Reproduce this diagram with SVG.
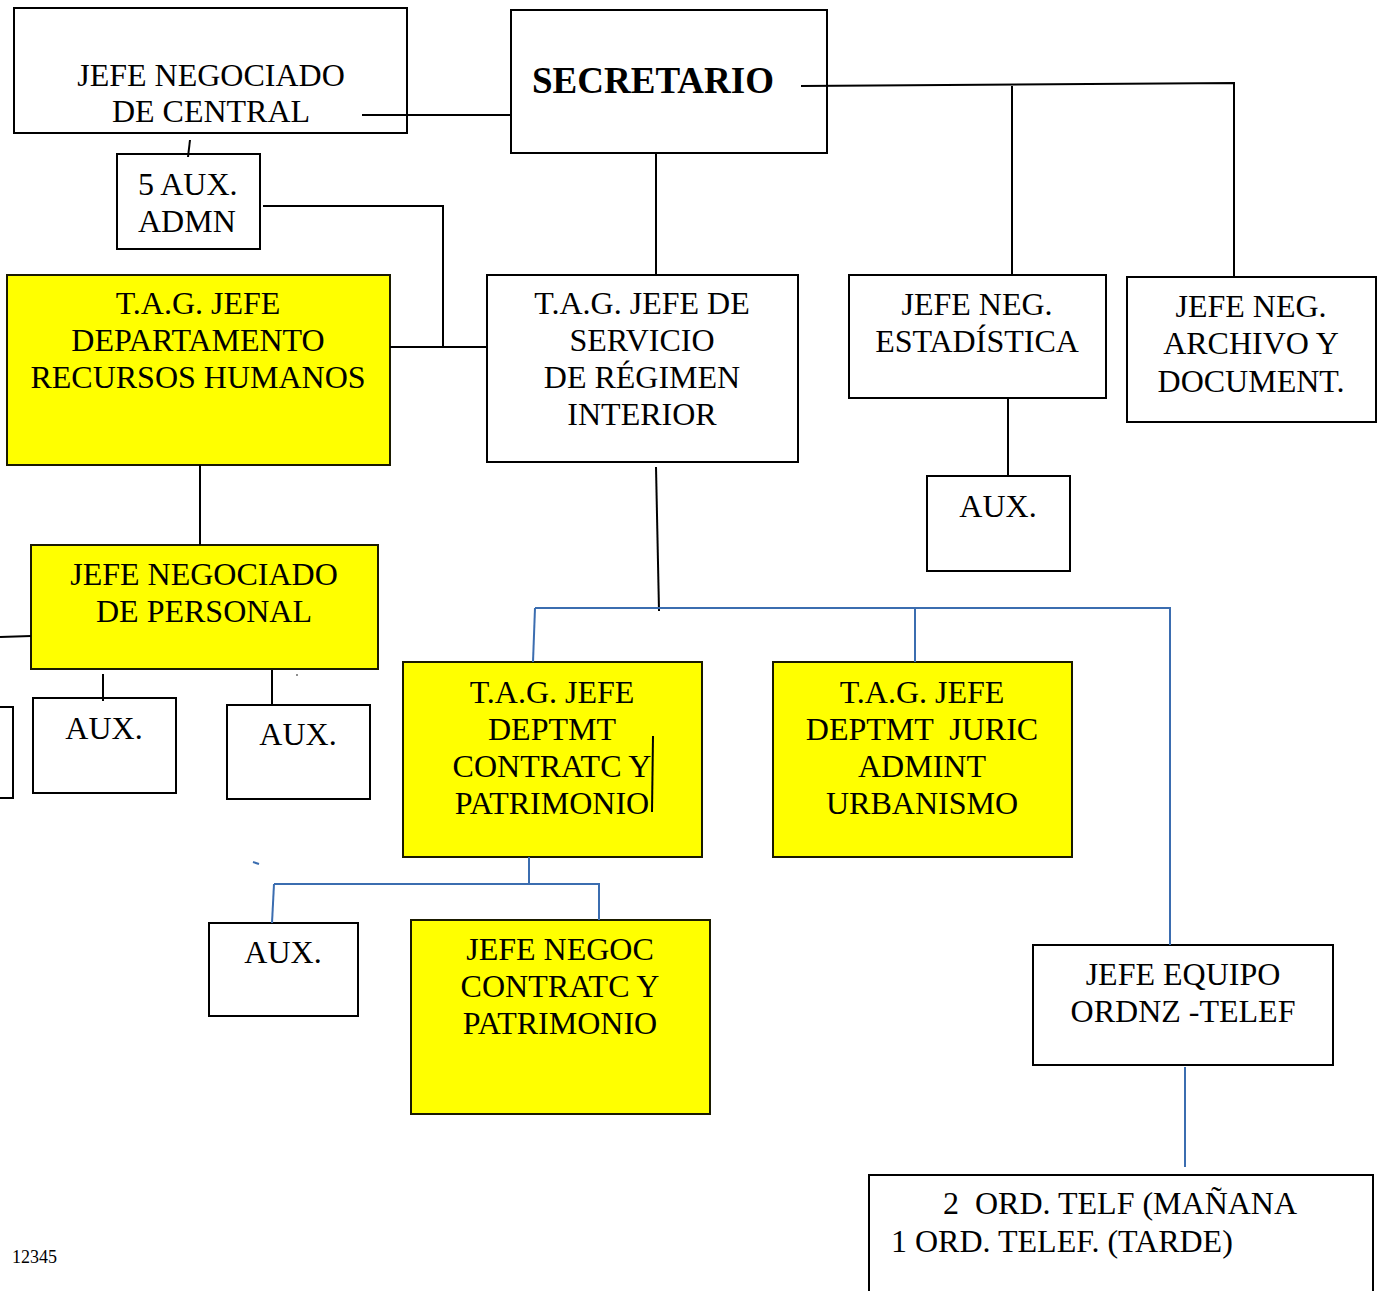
<svg xmlns="http://www.w3.org/2000/svg" width="1382" height="1291" viewBox="0 0 1382 1291">
<style>
.box{fill:#fff;stroke:#000;stroke-width:2}
.yb{fill:#ffff00;stroke:#1a1a00;stroke-width:2}
.t{font-family:"Liberation Serif","Times New Roman",serif;font-size:32px;fill:#000}
.c{text-anchor:middle}
.k{stroke:#000;stroke-width:2;fill:none}
.b{stroke:#3b6db0;stroke-width:2;fill:none}
</style>
<rect width="1382" height="1291" fill="#fff"/>
<g id="n-central">
<rect class="box" x="14" y="8" width="393" height="125"/>
<text class="t c" x="211" y="86">JEFE NEGOCIADO</text>
<text class="t c" x="211" y="122">DE CENTRAL</text>
</g>
<g id="n-secretario">
<rect class="box" x="511" y="10" width="316" height="143"/>
<text class="t" x="532" y="93" style="font-weight:bold;font-size:37px">SECRETARIO</text>
</g>
<g id="n-5aux">
<rect class="box" x="117" y="154" width="143" height="95"/>
<text class="t" x="138" y="195">5 AUX.</text>
<text class="t" x="138" y="232">ADMN</text>
</g>
<g id="n-rrhh">
<rect class="yb" x="7" y="275" width="383" height="190"/>
<text class="t c" x="198" y="314">T.A.G. JEFE</text>
<text class="t c" x="198" y="351">DEPARTAMENTO</text>
<text class="t c" x="198" y="388">RECURSOS HUMANOS</text>
</g>
<g id="n-regimen">
<rect class="box" x="487" y="275" width="311" height="187"/>
<text class="t c" x="642" y="314">T.A.G. JEFE DE</text>
<text class="t c" x="642" y="351">SERVICIO</text>
<text class="t c" x="642" y="388">DE RÉGIMEN</text>
<text class="t c" x="642" y="425">INTERIOR</text>
</g>
<g id="n-estadistica">
<rect class="box" x="849" y="275" width="257" height="123"/>
<text class="t c" x="977" y="315">JEFE NEG.</text>
<text class="t c" x="977" y="352">ESTADÍSTICA</text>
</g>
<g id="n-archivo">
<rect class="box" x="1127" y="277" width="249" height="145"/>
<text class="t c" x="1251" y="317">JEFE NEG.</text>
<text class="t c" x="1251" y="354">ARCHIVO Y</text>
<text class="t c" x="1251" y="392">DOCUMENT.</text>
</g>
<g id="n-aux-est">
<rect class="box" x="927" y="476" width="143" height="95"/>
<text class="t c" x="998" y="517">AUX.</text>
</g>
<g id="n-personal">
<rect class="yb" x="31" y="545" width="347" height="124"/>
<text class="t c" x="204" y="585">JEFE NEGOCIADO</text>
<text class="t c" x="204" y="622">DE PERSONAL</text>
</g>
<g id="n-left-partial">
<rect class="box" x="-20" y="707" width="33" height="91"/>
</g>
<g id="n-aux1">
<rect class="box" x="33" y="698" width="143" height="95"/>
<text class="t c" x="104" y="739">AUX.</text>
</g>
<g id="n-aux2">
<rect class="box" x="227" y="705" width="143" height="94"/>
<text class="t c" x="298" y="745">AUX.</text>
</g>
<circle cx="297" cy="675" r="0.8" fill="#000"/>
<g id="n-contratc">
<rect class="yb" x="403" y="662" width="299" height="195"/>
<text class="t c" x="552" y="703">T.A.G. JEFE</text>
<text class="t c" x="552" y="740">DEPTMT</text>
<text class="t c" x="552" y="777">CONTRATC Y</text>
<text class="t c" x="552" y="814">PATRIMONIO</text>
<path class="k" d="M653 736L652 812"/>
</g>
<g id="n-juric">
<rect class="yb" x="773" y="662" width="299" height="195"/>
<text class="t c" x="922" y="703">T.A.G. JEFE</text>
<text class="t c" x="922" y="740" xml:space="preserve">DEPTMT  JURIC</text>
<text class="t c" x="922" y="777">ADMINT</text>
<text class="t c" x="922" y="814">URBANISMO</text>
</g>
<g id="n-aux3">
<rect class="box" x="209" y="923" width="149" height="93"/>
<text class="t c" x="283" y="963">AUX.</text>
</g>
<g id="n-negoc">
<rect class="yb" x="411" y="920" width="299" height="194"/>
<text class="t c" x="560" y="960">JEFE NEGOC</text>
<text class="t c" x="560" y="997">CONTRATC Y</text>
<text class="t c" x="560" y="1034">PATRIMONIO</text>
</g>
<g id="n-equipo">
<rect class="box" x="1033" y="945" width="300" height="120"/>
<text class="t c" x="1183" y="985">JEFE EQUIPO</text>
<text class="t c" x="1183" y="1022">ORDNZ -TELEF</text>
</g>
<g id="n-ord">
<rect class="box" x="869" y="1175" width="504" height="130"/>
<text class="t" x="943" y="1214" xml:space="preserve">2  ORD. TELF (MAÑANA</text>
<text class="t" x="891" y="1252">1 ORD. TELEF. (TARDE)</text>
</g>
<text class="t" x="12" y="1263" style="font-size:18px">12345</text>
<g id="connectors">
<path class="k" d="M362 115H511"/>
<path class="k" d="M190 140L188 157"/>
<path class="k" d="M263 206H443V347"/>
<path class="k" d="M390 347H488"/>
<path class="k" d="M656 153V275"/>
<path class="k" d="M801 86L1234 83V277"/>
<path class="k" d="M1012 86V275"/>
<path class="k" d="M1008 398V476"/>
<path class="k" d="M200 465V545"/>
<path class="k" d="M0 637L31 636"/>
<path class="k" d="M103 674V701"/>
<path class="k" d="M272 670V705"/>
<path class="k" d="M656 467L659 611"/>
<path class="b" d="M535 608H1170V945"/>
<path class="b" d="M535 608L533 662"/>
<path class="b" d="M915 608V662"/>
<path class="b" d="M529 857V884"/>
<path class="b" d="M274 884H599V920"/>
<path class="b" d="M274 884L272 923"/>
<path class="b" d="M253 862L259 864"/>
<path class="b" d="M1185 1067V1167"/>
</g>
</svg>
